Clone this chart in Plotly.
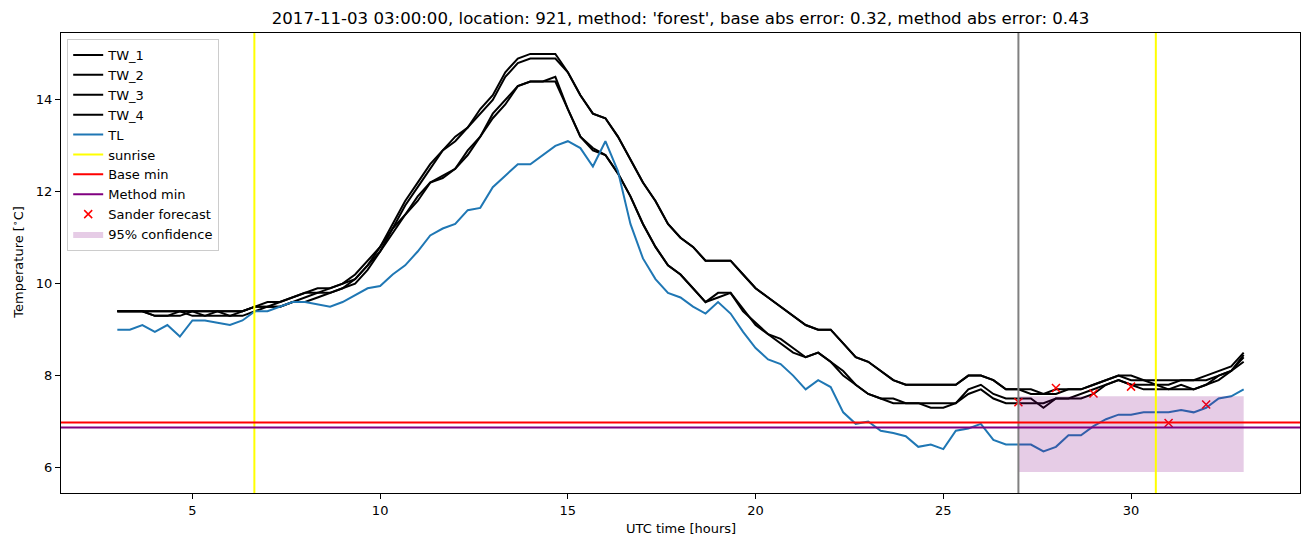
import plotly.graph_objects as go

title = "2017-11-03 03:00:00, location: 921, method: 'forest', base abs error: 0.32, method abs error: 0.43"

# readings every 20 minutes from 03:00 (hour 3) to hour 33
tw_1 = [9.4, 9.4, 9.4, 9.4, 9.4, 9.4, 9.4, 9.4, 9.4, 9.4, 9.4, 9.5, 9.6, 9.6, 9.7, 9.8, 9.9, 9.9, 10.0, 10.2,
        10.5, 10.8, 11.3, 11.8, 12.2, 12.6, 12.9, 13.2, 13.4, 13.8, 14.1, 14.6, 14.9, 15.0, 15.0, 15.0, 14.6, 14.1, 13.7, 13.6,
        13.2, 12.7, 12.2, 11.8, 11.3, 11.0, 10.8, 10.5, 10.5, 10.5, 10.2, 9.9, 9.7, 9.5, 9.3, 9.1, 9.0, 9.0, 8.7, 8.4,
        8.3, 8.1, 7.9, 7.8, 7.8, 7.8, 7.8, 7.8, 8.0, 8.0, 7.9, 7.7, 7.7, 7.7, 7.6, 7.7, 7.7, 7.7, 7.8, 7.9,
        8.0, 7.9, 7.9, 7.9, 7.9, 7.9, 7.9, 8.0, 8.1, 8.2, 8.5]
tw_2 = [9.4, 9.4, 9.4, 9.4, 9.4, 9.4, 9.4, 9.4, 9.4, 9.4, 9.4, 9.5, 9.5, 9.6, 9.7, 9.8, 9.8, 9.9, 10.0, 10.1,
        10.4, 10.7, 11.2, 11.7, 12.1, 12.5, 12.9, 13.1, 13.4, 13.7, 14.0, 14.5, 14.8, 14.9, 14.9, 14.9, 14.6, 14.1, 13.7, 13.6,
        13.2, 12.7, 12.2, 11.8, 11.3, 11.0, 10.8, 10.5, 10.5, 10.5, 10.2, 9.9, 9.7, 9.5, 9.3, 9.1, 9.0, 9.0, 8.7, 8.4,
        8.3, 8.1, 7.9, 7.8, 7.8, 7.8, 7.8, 7.8, 8.0, 8.0, 7.9, 7.7, 7.7, 7.6, 7.6, 7.6, 7.7, 7.7, 7.8, 7.9,
        8.0, 8.0, 7.9, 7.8, 7.8, 7.9, 7.9, 7.9, 8.0, 8.1, 8.45]
tw_3 = [9.4, 9.4, 9.4, 9.3, 9.3, 9.3, 9.4, 9.3, 9.3, 9.3, 9.3, 9.4, 9.5, 9.5, 9.6, 9.7, 9.8, 9.8, 9.9, 10.1,
        10.4, 10.8, 11.2, 11.5, 11.9, 12.2, 12.35, 12.5, 12.9, 13.2, 13.7, 14.0, 14.3, 14.4, 14.4, 14.5, 13.8, 13.2, 12.95, 12.8,
        12.4, 11.9, 11.3, 10.8, 10.4, 10.2, 9.9, 9.6, 9.7, 9.8, 9.4, 9.15, 8.9, 8.8, 8.6, 8.4, 8.5, 8.3, 8.1, 7.8,
        7.6, 7.5, 7.5, 7.4, 7.4, 7.4, 7.4, 7.4, 7.7, 7.8, 7.6, 7.5, 7.5, 7.5, 7.3, 7.5, 7.5, 7.6, 7.7, 7.8,
        7.9, 7.8, 7.7, 7.7, 7.7, 7.8, 7.7, 7.8, 8.0, 8.1, 8.4]
tw_4 = [9.4, 9.4, 9.4, 9.3, 9.3, 9.4, 9.3, 9.3, 9.4, 9.3, 9.4, 9.5, 9.5, 9.5, 9.6, 9.6, 9.7, 9.8, 9.9, 10.0,
        10.3, 10.7, 11.1, 11.5, 11.8, 12.2, 12.3, 12.5, 12.8, 13.2, 13.6, 13.9, 14.3, 14.4, 14.4, 14.4, 13.8, 13.2, 12.9, 12.8,
        12.4, 11.9, 11.3, 10.8, 10.4, 10.2, 9.9, 9.6, 9.8, 9.8, 9.45, 9.1, 8.9, 8.7, 8.5, 8.4, 8.5, 8.3, 8.0, 7.8,
        7.6, 7.5, 7.4, 7.4, 7.4, 7.3, 7.3, 7.4, 7.6, 7.7, 7.5, 7.4, 7.4, 7.4, 7.4, 7.5, 7.5, 7.5, 7.6, 7.8,
        7.9, 7.8, 7.8, 7.8, 7.7, 7.7, 7.7, 7.8, 7.9, 8.1, 8.3]
tl = [9.0, 9.0, 9.1, 8.95, 9.1, 8.85, 9.2, 9.2, 9.15, 9.1, 9.2, 9.4, 9.4, 9.5, 9.6, 9.6, 9.55, 9.5, 9.6, 9.75,
      9.9, 9.95, 10.2, 10.4, 10.7, 11.05, 11.2, 11.3, 11.6, 11.65, 12.1, 12.35, 12.6, 12.6, 12.8, 13.0, 13.1, 12.95, 12.55, 13.1,
      12.45, 11.3, 10.55, 10.1, 9.8, 9.7, 9.5, 9.35, 9.6, 9.35, 8.95, 8.6, 8.35, 8.25, 8.0, 7.7, 7.9, 7.75, 7.2, 6.95,
      7.0, 6.8, 6.75, 6.68, 6.45, 6.5, 6.4, 6.8, 6.85, 6.95, 6.6, 6.5, 6.5, 6.5, 6.35, 6.45, 6.7, 6.7, 6.9, 7.05,
      7.15, 7.15, 7.2, 7.2, 7.2, 7.25, 7.2, 7.3, 7.5, 7.55, 7.7]
hours = [3 + i / 3 for i in range(len(tl))]

sunrise = [6.65, 30.66]
forecast_time = 27.0
base_min = 6.98
method_min = 6.87

sander_hours = [27, 28, 29, 30, 31, 32]
sander_temp = [7.42, 7.73, 7.61, 7.76, 6.97, 7.37]

conf_hours = [27, 33]
conf_low = 5.9
conf_high = 7.55

fig = go.Figure()

for name, vals in [("TW_1", tw_1), ("TW_2", tw_2), ("TW_3", tw_3), ("TW_4", tw_4)]:
    fig.add_trace(go.Scatter(x=hours, y=vals, mode="lines", name=name, line=dict(color="black", width=2)))
fig.add_trace(go.Scatter(x=hours, y=tl, mode="lines", name="TL", line=dict(color="#1f77b4", width=2)))

cx = [conf_hours[0], conf_hours[1], conf_hours[1], conf_hours[0], conf_hours[0]]
cy = [conf_low, conf_low, conf_high, conf_high, conf_low]

# legend-only entries for the span lines
fig.add_trace(go.Scatter(x=[None], y=[None], mode="lines", name="sunrise", line=dict(color="yellow", width=2)))
fig.add_trace(go.Scatter(x=[None], y=[None], mode="lines", name="Base min", line=dict(color="red", width=2)))
fig.add_trace(go.Scatter(x=[None], y=[None], mode="lines", name="Method min", line=dict(color="purple", width=2)))

fig.add_trace(go.Scatter(x=sander_hours, y=sander_temp, mode="markers", name="Sander forecast",
                         marker=dict(symbol="x-thin", size=8, color="red", line=dict(color="red", width=1.5))))
fig.add_trace(go.Scatter(x=cx, y=cy, mode="lines", fill="toself", name="95% confidence",
                         fillcolor="rgba(128,0,128,0.2)", line=dict(width=0)))

for s in sunrise:
    fig.add_vline(x=s, line=dict(color="yellow", width=2))
fig.add_vline(x=forecast_time, line=dict(color="gray", width=2))
fig.add_hline(y=base_min, line=dict(color="red", width=2))
fig.add_hline(y=method_min, line=dict(color="purple", width=2))

axis_style = dict(showline=True, linecolor="black", linewidth=1, mirror=True, ticks="outside",
                  ticklen=5, tickcolor="black", showgrid=False, zeroline=False, automargin=False,
                  tickfont=dict(size=13, color="black"))

# axis titles as annotations so they sit where matplotlib put them
fig.add_annotation(text="UTC time [hours]", xref="paper", yref="paper", x=0.5, y=-0.078,
                   xanchor="center", yanchor="middle", showarrow=False, font=dict(size=13))
fig.add_annotation(text="Temperature [<sup>∘</sup>C]", xref="paper", yref="paper", x=-0.035, y=0.5,
                   xanchor="center", yanchor="middle", textangle=-90, showarrow=False, font=dict(size=13))

# page body adds an 8px offset, so the figure is 8px smaller than the window
fig.update_layout(
    width=1302, height=539,
    margin=dict(l=53, r=10, t=25, b=54),
    plot_bgcolor="white", paper_bgcolor="white",
    font=dict(family="DejaVu Sans", size=13, color="black"),
    title=dict(text=title, x=0.5, xanchor="center", xref="paper", y=0.982, yanchor="middle",
               font=dict(size=16.6, color="black")),
    xaxis=dict(range=[1.5, 34.5], tickvals=[5, 10, 15, 20, 25, 30], **axis_style),
    yaxis=dict(range=[5.445, 15.455], tickvals=[6, 8, 10, 12, 14], **axis_style),
    legend=dict(x=0.005, y=0.987, xanchor="left", yanchor="top", bgcolor="rgba(255,255,255,0.8)",
                bordercolor="#cccccc", borderwidth=1, font=dict(size=13), tracegroupgap=0),
    showlegend=True,
)

fig.write_html("out.html")
